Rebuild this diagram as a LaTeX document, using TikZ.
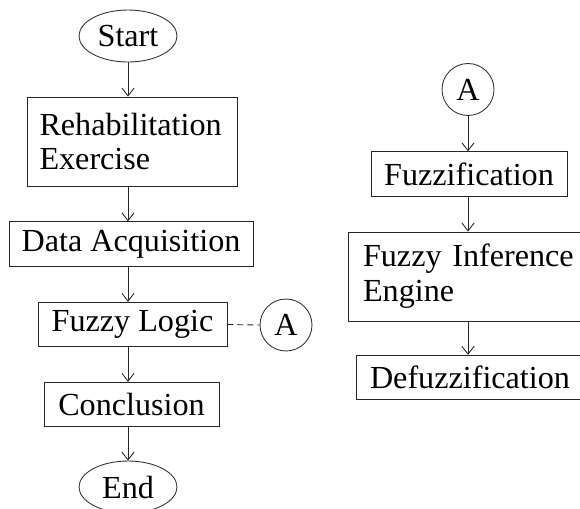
\documentclass[tikz,border=0pt]{standalone}
\usepackage{fontspec}
\setmainfont{Liberation Serif}
\usepackage{tikz}
\usetikzlibrary{shapes.geometric,arrows.meta}

\begin{document}
\begin{tikzpicture}[x=0.02cm,y=-0.02cm,
    font=\fontsize{18.3}{19.8}\selectfont,
    line width=0.5pt,
    terminal/.style={draw=black!80,ellipse,inner sep=0pt,minimum width=1.96cm,minimum height=1.04cm},
    procbox/.style={draw=black!85,rectangle,inner sep=0pt,minimum height=0.89cm},
    twoline/.style={draw=black!85,rectangle,inner xsep=0.3cm,inner ysep=0pt,minimum height=1.78cm,align=left},
    connector/.style={draw=black!80,circle,inner sep=0pt,minimum size=1.04cm},
    flow/.style={draw=black!85,-{Straight Barb[length=4.5pt,width=7pt]}}]
    \useasboundingbox (0,0) rectangle (580,508);
% Main flow
    \node[terminal] (start) at (128,36) {Start};
    \node[twoline,inner xsep=0.25cm,text width=3.7cm] (rehab) at (132,141.5) {Rehabilitation\\Exercise};
    \node[procbox,minimum width=4.88cm] (data) at (131,244) {Data Acquisition};
    \node[procbox,minimum width=3.78cm] (logic) at (132.5,324.5) {Fuzzy Logic};
    \node[procbox,minimum width=3.5cm] (concl) at (131.5,404.5) {Conclusion};
    \node[terminal] (end) at (128,487) {End};
    \node[connector] (linkA) at (286,325) {A};
    \draw[flow] (start.south) -- (start.south |- rehab.north);
    \draw[flow] (start.south |- rehab.south) -- (start.south |- data.north);
    \draw[flow] (start.south |- data.south) -- (start.south |- logic.north);
    \draw[flow] (start.south |- logic.south) -- (start.south |- concl.north);
    \draw[flow] (start.south |- concl.south) -- (end.north);
    \draw[draw=black!85,dash pattern=on 3.4pt off 2.3pt] (logic.east) -- (linkA.west);
% Fuzzy logic block
    \node[connector] (entryA) at (468,89.5) {A};
    \node[procbox,minimum width=3.92cm] (fuzz) at (469,174) {Fuzzification};
    \node[twoline,text width=4.5cm] (engine) at (475.5,276.5) {Fuzzy Inference\\Engine};
    \node[procbox,minimum width=4.56cm] (defuzz) at (470,377.5) {Defuzzification};
    \draw[flow] (entryA.south) -- (entryA.south |- fuzz.north);
    \draw[flow] (entryA.south |- fuzz.south) -- (entryA.south |- engine.north);
    \draw[flow] (entryA.south |- engine.south) -- (entryA.south |- defuzz.north);
\end{tikzpicture}
\end{document}
